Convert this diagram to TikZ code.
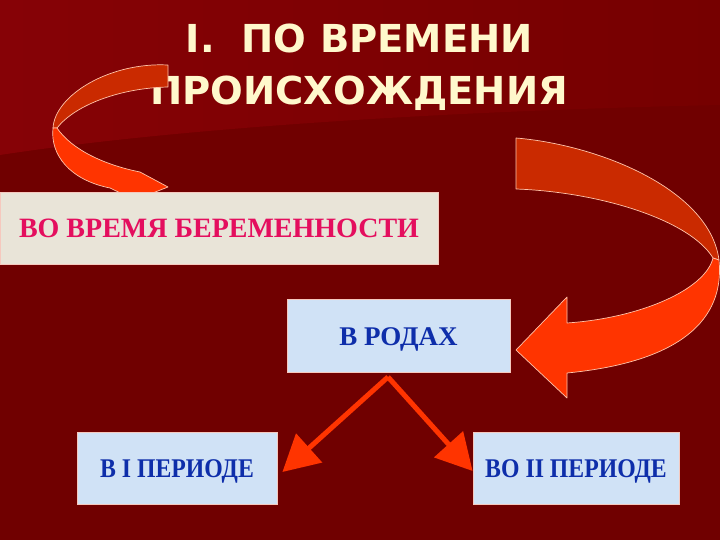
\documentclass[tikz,border=0pt]{standalone}
\usepackage{fontspec}
\setmainfont{Liberation Serif}
\newfontfamily\headfont{DejaVu Sans}
\usetikzlibrary{arrows.meta}
\definecolor{bgtop}{RGB}{134,2,6}
\definecolor{bgright}{RGB}{118,0,0}
\definecolor{bglow}{RGB}{112,0,0}
\definecolor{headcol}{RGB}{255,248,204}
\definecolor{ribdark}{RGB}{202,42,0}
\definecolor{riblight}{RGB}{255,52,0}
\definecolor{ribedge}{RGB}{255,196,170}
\definecolor{sand}{RGB}{233,228,216}
\definecolor{skyfill}{RGB}{208,226,246}
\definecolor{crimsontext}{RGB}{228,14,94}
\definecolor{bluetext}{RGB}{14,46,170}
\definecolor{boxedge}{RGB}{246,200,190}
\tikzset{
	sandbox/.style={
		draw = boxedge,
		line width = 0.8pt,
		fill = sand,
		text = crimsontext,
		font = \bfseries\fontsize{28}{28}\selectfont,
		text height = 19pt,
		text depth = 0pt,
		inner sep = 0pt
	},
	skybox/.style={
		sandbox,
		fill = skyfill,
		text = bluetext,
		font = \bfseries\fontsize{27}{27}\selectfont,
		text height = 18pt
	},
	ribbon/.style={
		draw = ribedge,
		line width = 0.7pt,
		line join = round
	},
	pointer/.style={
		draw = riblight,
		line width = 5pt,
		-{Triangle[length=36pt,width=38pt]}
	},
}
\tikzset{>=stealth}

\begin{document}
\begin{tikzpicture}[x=1pt, y=-1pt]
	\useasboundingbox (0,0) rectangle (720,540);
	% background
	\fill[bglow] (0,0) rectangle (720,540);
	\shade[left color=bgtop, right color=bgright]
		(0,0) -- (720,0) -- (720,105) .. controls (400,112) and (150,132) .. (0,155) -- cycle;
	% heading
	\node[anchor=base, text=headcol, font=\headfont\bfseries\fontsize{38.5}{38.5}\selectfont, inner sep=0pt] (title1) at (359.5,53) {I.\ \ ПО ВРЕМЕНИ};
	\node[anchor=base, text=headcol, font=\headfont\bfseries\fontsize{38.5}{38.5}\selectfont, inner sep=0pt] (title2) at (359,105) {ПРОИСХОЖДЕНИЯ};
	% curved arrow, left
	\filldraw[ribbon, fill=ribdark] (168,65) .. controls (110,62) and (55,95) .. (53,128)
		-- (57,128) .. controls (75,105) and (120,88) .. (168,87) -- cycle;
	\filldraw[ribbon, fill=riblight] (53,128) .. controls (50,155) and (70,180) .. (110,188)
		-- (135,200) -- (168,187) -- (140,172) .. controls (105,165) and (72,150) .. (57,128) -- cycle;
	% curved arrow, right
	\filldraw[ribbon, fill=ribdark] (516,138) .. controls (600,145) and (710,190) .. (719,260)
		-- (713,258) .. controls (690,220) and (600,192) .. (516,189) -- cycle;
	\filldraw[ribbon, fill=riblight] (713,258) .. controls (705,290) and (640,318) .. (567,323)
		-- (567,297) -- (516,350) -- (567,398) -- (567,373)
		.. controls (680,362) and (725,320) .. (719,260) -- cycle;
	% boxes
	\node[sandbox, minimum width=438pt, minimum height=72pt] (pregnancy) at (219,228) {ВО ВРЕМЯ БЕРЕМЕННОСТИ};
	\node[skybox, minimum width=223pt, minimum height=73pt] (birth) at (398.5,336) {В РОДАХ};
	\node[skybox, minimum width=200pt, minimum height=72pt] (periodone) at (177,468) {\scalebox{0.88}[1]{В I ПЕРИОДЕ}};
	\node[skybox, minimum width=206pt, minimum height=72pt] (periodtwo) at (576,468) {\scalebox{0.88}[1]{ВО II ПЕРИОДЕ}};
	\coordinate (apex) at (388,377);
	\draw[pointer] (apex) -- ([xshift=5pt,yshift=-4pt]periodone.east);
	\draw[pointer] (apex) -- ([yshift=-3pt]periodtwo.west);
\end{tikzpicture}
\end{document}
